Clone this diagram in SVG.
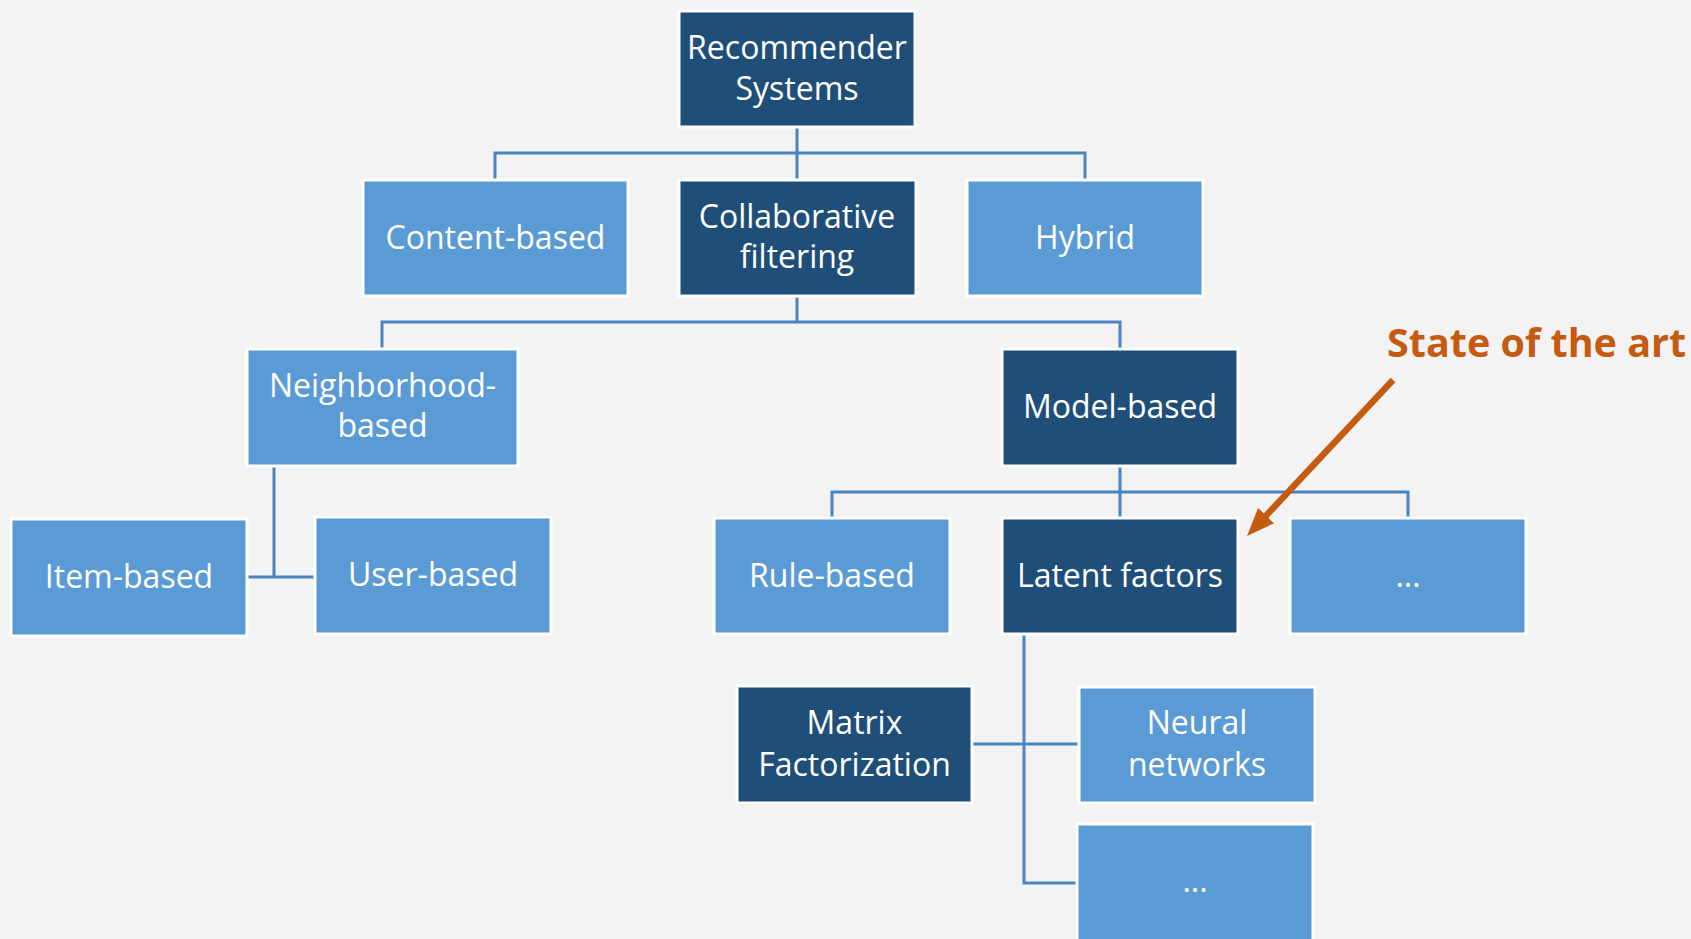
<svg xmlns="http://www.w3.org/2000/svg" width="1691" height="939" viewBox="0 0 1691 939">
<style>
.dark{fill:#1F4E79;stroke:#ffffff;stroke-width:3}
.light{fill:#5B9BD5;stroke:#ffffff;stroke-width:3}
.t{font-family:"Open Sans","Liberation Sans",sans-serif;font-size:32px;fill:#ffffff;text-anchor:middle}
.c{fill:none;stroke:#4A84C0;stroke-width:3}
.note{font-family:"Open Sans","Liberation Sans",sans-serif;font-size:39.5px;font-weight:bold;fill:#C55A11}
</style>
<defs>
<marker id="ah" markerUnits="userSpaceOnUse" markerWidth="30" markerHeight="24" refX="4" refY="11" orient="auto">
<path d="M0,0 L28,11 L0,22 z" fill="#C55A11"/>
</marker>
</defs>
<rect width="1691" height="939" fill="#F3F3F3"/>
<g id="connectors">
<path class="c" d="M797,127 V179 M495,180 V153 H1085 V180"/>
<path class="c" d="M797,296 V322 M382,348 V322 H1120 V348"/>
<path class="c" d="M274,466 V577 M247,577 H314"/>
<path class="c" d="M1120,466 V518 M832,518 V492 H1408 V518"/>
<path class="c" d="M1024,634 V883 H1077 M972,744 H1079"/>
</g>
<g id="recommender"><rect class="dark" x="679" y="11" width="236" height="116"/><text class="t" x="797" y="59">Recommender</text><text class="t" x="797" y="100">Systems</text></g>
<g id="content-based"><rect class="light" x="363" y="180" width="265" height="116"/><text class="t" x="495.5" y="249">Content-based</text></g>
<g id="collaborative"><rect class="dark" x="679" y="180" width="237" height="116"/><text class="t" x="797" y="228">Collaborative</text><text class="t" x="797" y="268">filtering</text></g>
<g id="hybrid"><rect class="light" x="967" y="180" width="236" height="116"/><text class="t" x="1085" y="249">Hybrid</text></g>
<g id="neighborhood"><rect class="light" x="247" y="349" width="271" height="117"/><text class="t" x="382.5" y="397">Neighborhood-</text><text class="t" x="382.5" y="437">based</text></g>
<g id="model-based"><rect class="dark" x="1002" y="349" width="236" height="117"/><text class="t" x="1120" y="418">Model-based</text></g>
<g id="item-based"><rect class="light" x="11" y="519" width="236" height="117"/><text class="t" x="129" y="588">Item-based</text></g>
<g id="user-based"><rect class="light" x="315" y="517" width="236" height="117"/><text class="t" x="433" y="586">User-based</text></g>
<g id="rule-based"><rect class="light" x="714" y="518" width="236" height="116"/><text class="t" x="832" y="587">Rule-based</text></g>
<g id="latent-factors"><rect class="dark" x="1002" y="518" width="236" height="116"/><text class="t" x="1120" y="587">Latent factors</text></g>
<g id="more-model"><rect class="light" x="1290" y="518" width="236" height="116"/><text class="t" x="1408" y="587">...</text></g>
<g id="matrix-factorization"><rect class="dark" x="737" y="686" width="235" height="117"/><text class="t" x="854.5" y="734">Matrix</text><text class="t" x="854.5" y="776">Factorization</text></g>
<g id="neural-networks"><rect class="light" x="1079" y="687" width="236" height="116"/><text class="t" x="1197" y="734">Neural</text><text class="t" x="1197" y="776">networks</text></g>
<g id="more-latent"><rect class="light" x="1077" y="824" width="236" height="120"/><text class="t" x="1195" y="892">...</text></g>
<g id="state-of-the-art"><text class="note" x="1387" y="357">State of the art</text>
<line x1="1393" y1="380" x2="1263.4" y2="518.5" stroke="#C55A11" stroke-width="6.5" marker-end="url(#ah)"/></g>
</svg>
